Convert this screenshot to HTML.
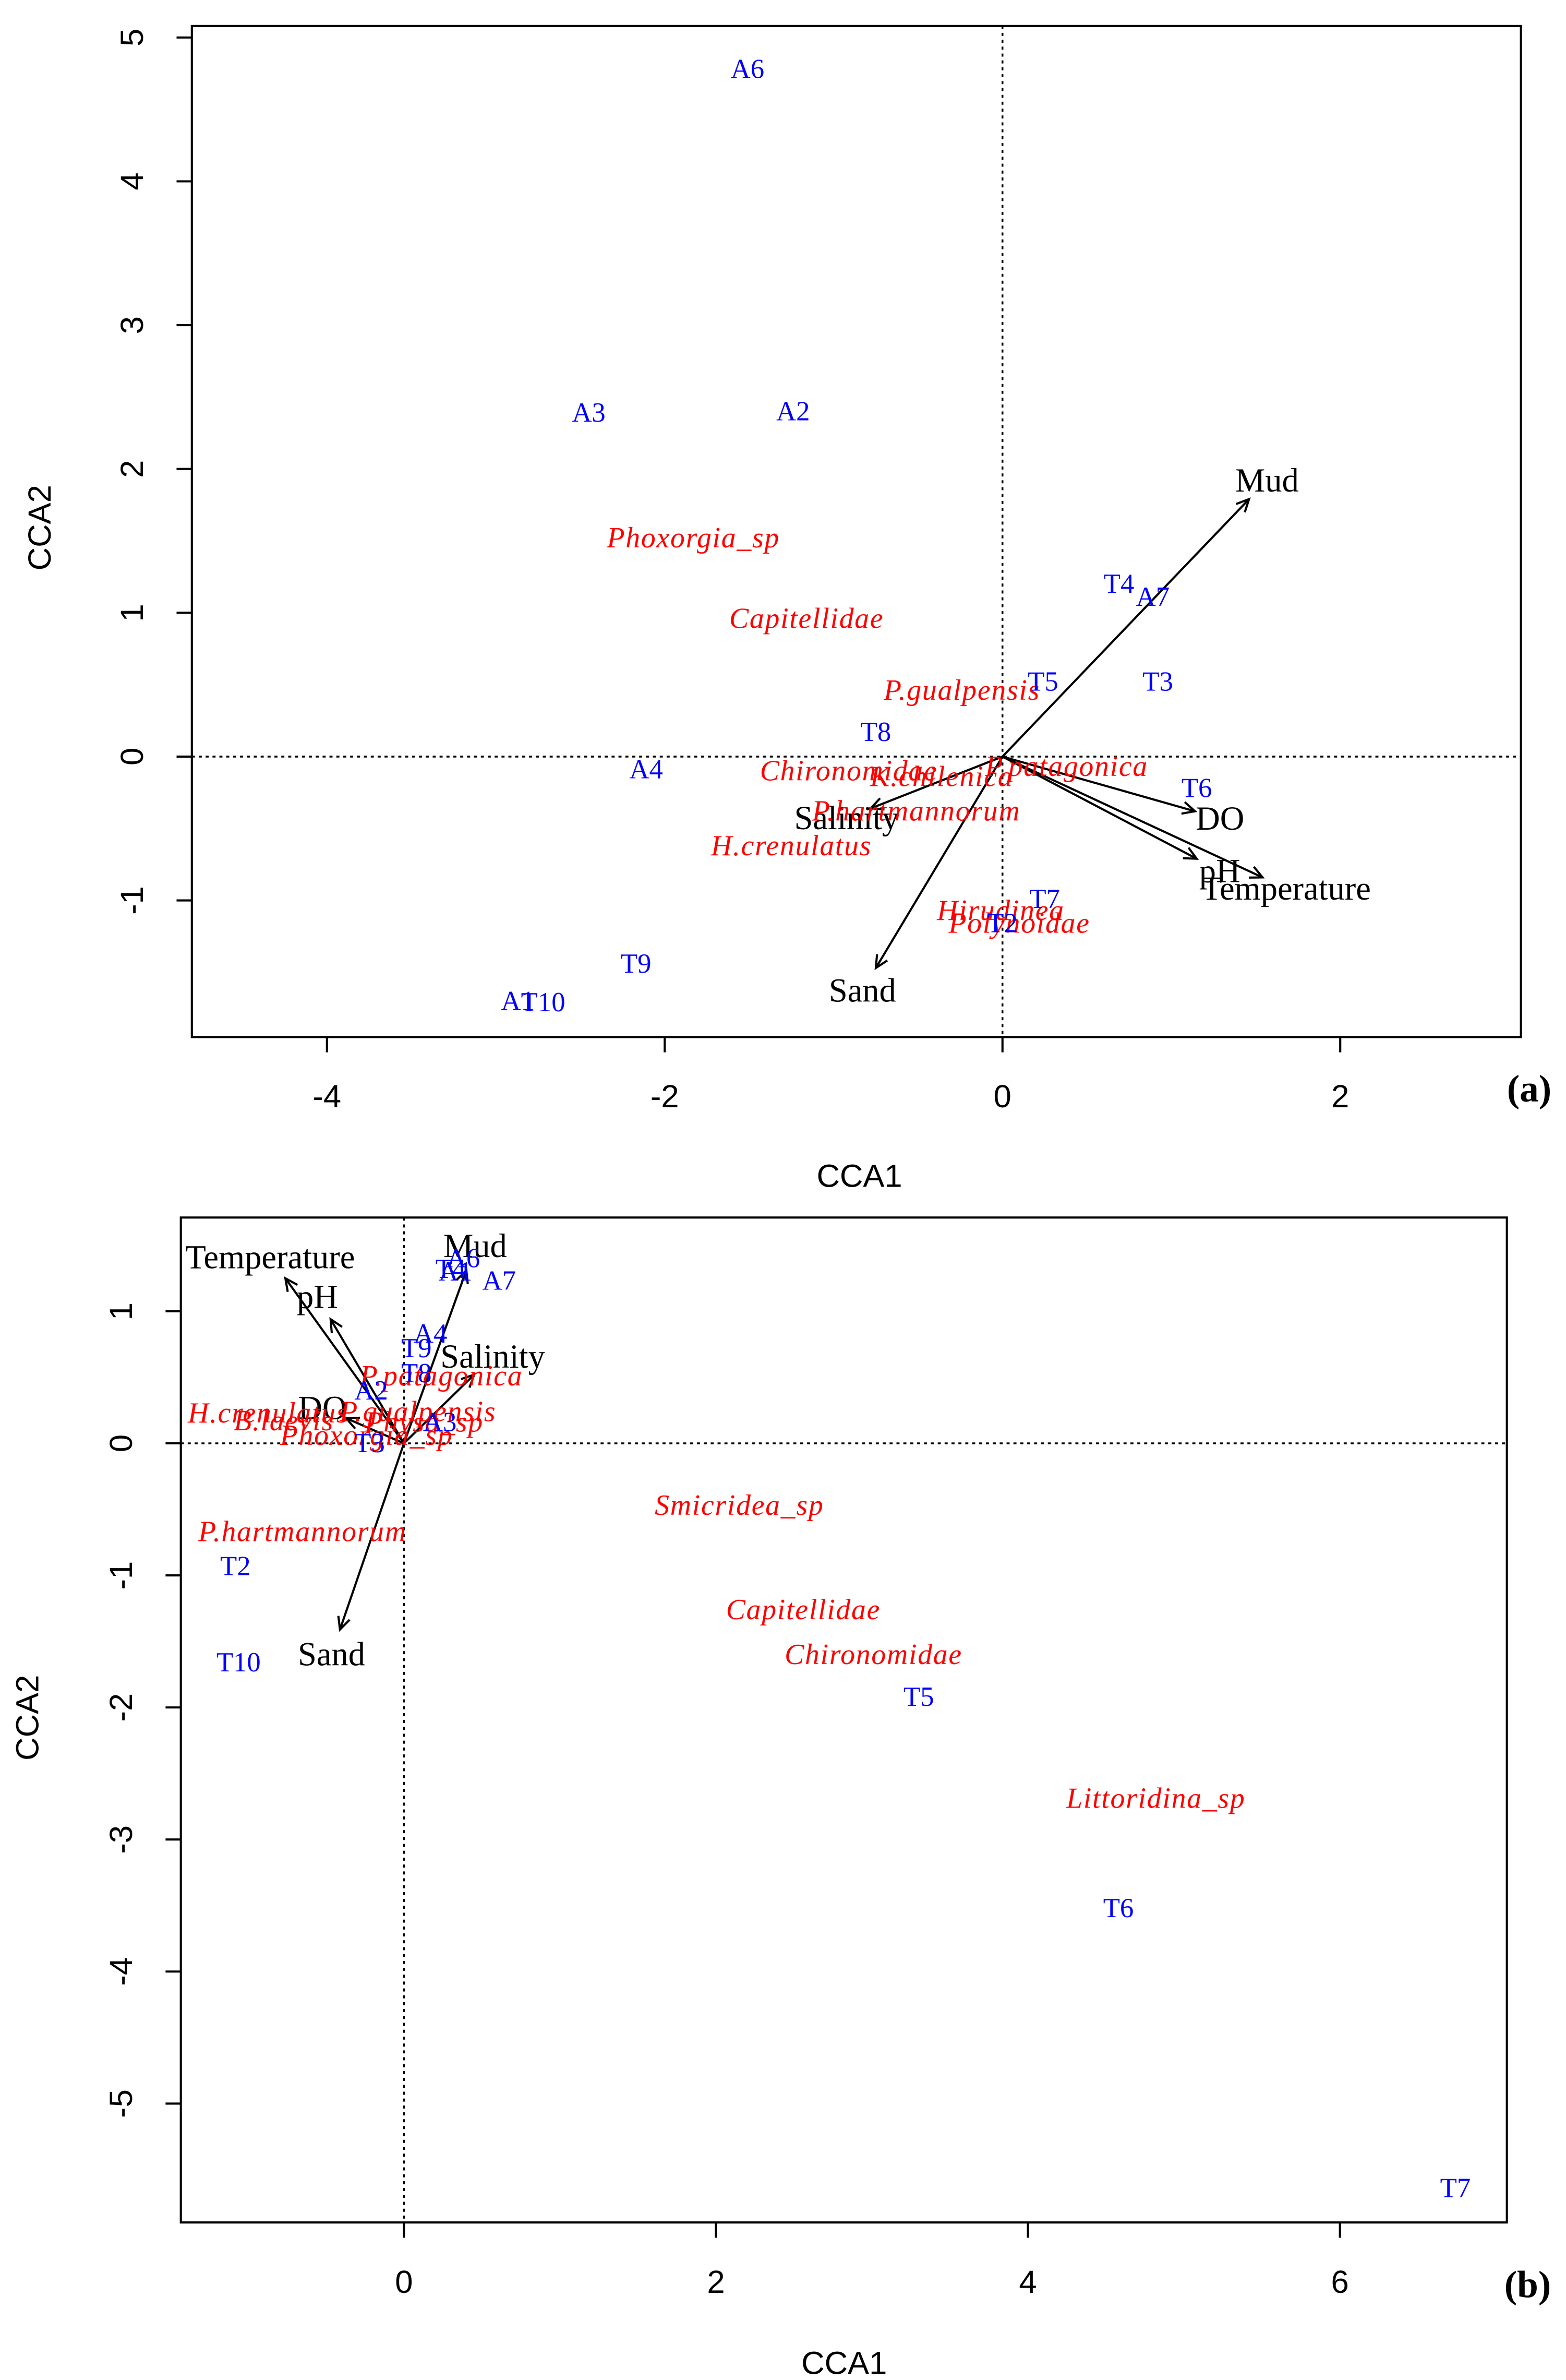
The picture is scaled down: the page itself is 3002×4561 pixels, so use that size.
<!DOCTYPE html>
<html><head><meta charset="utf-8"><style>
html,body{margin:0;padding:0;background:#fff;}
svg{display:block;}
</style></head><body>
<svg id="chart" xmlns="http://www.w3.org/2000/svg" width="3002" height="4561" viewBox="0 0 1024 1556">
<rect x="0" y="0" width="1024" height="1556" fill="#fff"/>
</svg>
<script>
// ---- Panel (a) data ----
const aSiteNames = ["A6","A3","A2","T4","A7","T5","T3","T8","A4","T6","T7","T2","T9","A1","T10"];
const aSiteX = [-1.51,-2.45,-1.24,0.69,0.89,0.24,0.92,-0.75,-2.11,1.15,0.25,0.0,-2.17,-2.87,-2.72];
const aSiteY = [4.78,2.39,2.40,1.20,1.11,0.52,0.52,0.17,-0.09,-0.22,-0.99,-1.16,-1.44,-1.70,-1.71];
const aSpNames = ["Phoxorgia_sp","Capitellidae","P.gualpensis","Chironomidae","K.chilenica","P.patagonica","P.hartmannorum","H.crenulatus","Hirudinea","Polynoidae"];
const aSpX = [-1.83,-1.16,-0.24,-0.91,-0.36,0.38,-0.51,-1.25,-0.01,0.10];
const aSpY = [1.52,0.96,0.46,-0.10,-0.14,-0.07,-0.38,-0.62,-1.07,-1.16];
const aEnvNames = ["Mud","Salinity","Sand","DO","pH","Temperature"];
const aEnvX = [1.46,-0.78,-0.75,1.14,1.15,1.54];
const aEnvY = [1.79,-0.36,-1.47,-0.38,-0.71,-0.84];
const aXTicks = [-4,-2,0,2];
const aYTicks = [-1,0,1,2,3,4,5];
// ---- Panel (b) data ----
const bSiteNames = ["A6","T4","A1","A7","A4","T9","T8","A2","A3","T3","T2","T10","T5","T6","T7"];
const bSiteX = [0.38,0.30,0.33,0.61,0.17,0.08,0.08,-0.21,0.23,-0.22,-1.08,-1.06,3.30,4.58,6.74];
const bSiteY = [1.40,1.32,1.30,1.23,0.83,0.72,0.53,0.40,0.16,0.0,-0.93,-1.66,-1.92,-3.52,-5.64];
const bSpNames = ["P.patagonica","P.gualpensis","H.crenulatus","B.laevis","Physa_sp","Phoxorgia_sp","Smicridea_sp","P.hartmannorum","Capitellidae","Chironomidae","Littoridina_sp"];
const bSpX = [0.24,0.09,-0.87,-0.77,0.13,-0.24,2.15,-0.65,2.56,3.01,4.82];
const bSpY = [0.51,0.24,0.23,0.17,0.16,0.06,-0.47,-0.67,-1.26,-1.60,-2.69];
const bEnvNames = ["Temperature","pH","Mud","Salinity","DO","Sand"];
const bEnvX = [-0.76,-0.47,0.40,0.45,-0.37,-0.41];
const bEnvY = [1.25,0.94,1.31,0.52,0.19,-1.41];
const bXTicks = [0,2,4,6];
const bYTicks = [-5,-4,-3,-2,-1,0,1];

const NS="http://www.w3.org/2000/svg";
const svg=document.getElementById('chart');
function mk(tag,attrs,parent){const e=document.createElementNS(NS,tag);for(const k in attrs)e.setAttribute(k,attrs[k]);(parent||svg).appendChild(e);return e;}

function panel(p){
  const g=mk('g',{});
  
  
  const sx=v=>p.x0+(v-p.xmin)/(p.xmax-p.xmin)*(p.x1-p.x0);
  const sy=v=>p.y1-(v-p.ymin)/(p.ymax-p.ymin)*(p.y1-p.y0);
  const zx=mk('line',{x1:sx(0),x2:sx(0),y1:p.y0,y2:p.y1,stroke:'#000','stroke-width':1.2,'stroke-dasharray':'2,2.5'},g);
  
  
  const zy=mk('line',{x1:p.x0,x2:p.x1,y1:sy(0),y2:sy(0),stroke:'#000','stroke-width':1.2,'stroke-dasharray':'2,2.5'},g);
  
  
  const box=mk('rect',{x:p.x0,y:p.y0,width:p.x1-p.x0,height:p.y1-p.y0,fill:'none',stroke:'#000','stroke-width':1.4},g);
  
  
  p.xt.forEach(v=>{
    const l=mk('line',{x1:sx(v),x2:sx(v),y1:p.y1,y2:p.y1+10,stroke:'#000','stroke-width':1.4},g);
    
    
    const t=mk('text',{x:sx(v),y:p.y1+46,'text-anchor':'middle','font-family':'Liberation Sans, sans-serif','font-size':21},g);
    t.textContent=v;
    
    
  });
  p.yt.forEach(v=>{
    const l=mk('line',{x1:p.x0,x2:p.x0-10,y1:sy(v),y2:sy(v),stroke:'#000','stroke-width':1.4},g);
    
    
    const tx=p.x0-32;
    const t=mk('text',{x:tx,y:sy(v),'text-anchor':'middle',transform:`rotate(-90 ${tx} ${sy(v)})`,'font-family':'Liberation Sans, sans-serif','font-size':21},g);
    t.textContent=v;
    
    
  });
  const xl=mk('text',{x:p.xlabX,y:p.xlabY,'text-anchor':'middle','font-family':'Liberation Sans, sans-serif','font-size':21},g);
  xl.textContent='CCA1';
  
  
  const yl=mk('text',{x:p.ylabX,y:p.ylabY,'text-anchor':'middle',transform:`rotate(-90 ${p.ylabX} ${p.ylabY})`,'font-family':'Liberation Sans, sans-serif','font-size':21},g);
  yl.textContent='CCA2';
  
  
  const tag=mk('text',{x:p.tagX,y:p.tagY,'text-anchor':'middle','font-family':'Liberation Serif, serif','font-size':25,'font-weight':'bold'},g);
  tag.textContent=p.tag;
  
  
  const ox=sx(0),oy=sy(0);
  p.en.forEach((n,i)=>{
    const ex=sx(p.ex[i]),ey=sy(p.ey[i]);
    const dx=ex-ox,dy=ey-oy,L=Math.hypot(dx,dy),ux=dx/L,uy=dy/L;
    const a=mk('line',{x1:ox,y1:oy,x2:ex,y2:ey,stroke:'#000','stroke-width':1.4},g);
    
    
    const h=9,c=Math.cos(0.45),s=Math.sin(0.45);
    const p1=[ex-h*(ux*c-uy*s),ey-h*(uy*c+ux*s)],p2=[ex-h*(ux*c+uy*s),ey-h*(uy*c-ux*s)];
    const hd=mk('polyline',{points:`${p1} ${ex},${ey} ${p2}`,fill:'none',stroke:'#000','stroke-width':1.4},g);
    
    
    const t=mk('text',{x:ex+ux*17,y:ey+uy*17,'text-anchor':'middle','dominant-baseline':'central','font-family':'Liberation Serif, serif','font-size':22},g);
    t.textContent=n;
    
    
  });
  p.spn.forEach((n,i)=>{
    const t=mk('text',{x:sx(p.spx[i]),y:sy(p.spy[i]),'text-anchor':'middle','dominant-baseline':'central','font-family':'Liberation Serif, serif','font-size':19,'font-style':'italic','letter-spacing':'0.6',fill:'#ff0000'},g);
    t.textContent=n;
    
    
  });
  p.sn.forEach((n,i)=>{
    const t=mk('text',{x:sx(p.sxv[i]),y:sy(p.syv[i]),'text-anchor':'middle','dominant-baseline':'central','font-family':'Liberation Serif, serif','font-size':18,fill:'#0000ff'},g);
    t.textContent=n;
    
    
  });
}
panel({id:'a',x0:125.4,x1:994.6,y0:17,y1:678,xmin:-4.80,xmax:3.07,ymin:-1.95,ymax:5.08,
  xt:aXTicks,yt:aYTicks,xlabX:562,xlabY:776,ylabX:33,ylabY:345,tagX:1000,tagY:720,tag:'(a)',
  en:aEnvNames,ex:aEnvX,ey:aEnvY,spn:aSpNames,spx:aSpX,spy:aSpY,sn:aSiteNames,sxv:aSiteX,syv:aSiteY});
panel({id:'b',x0:118.2,x1:985.4,y0:796,y1:1453,xmin:-1.43,xmax:7.07,ymin:-5.90,ymax:1.71,
  xt:bXTicks,yt:bYTicks,xlabX:552,xlabY:1552,ylabX:25,ylabY:1123,tagX:999,tagY:1502,tag:'(b)',
  en:bEnvNames,ex:bEnvX,ey:bEnvY,spn:bSpNames,spx:bSpX,spy:bSpY,sn:bSiteNames,sxv:bSiteX,syv:bSiteY});
</script>
</body></html>
